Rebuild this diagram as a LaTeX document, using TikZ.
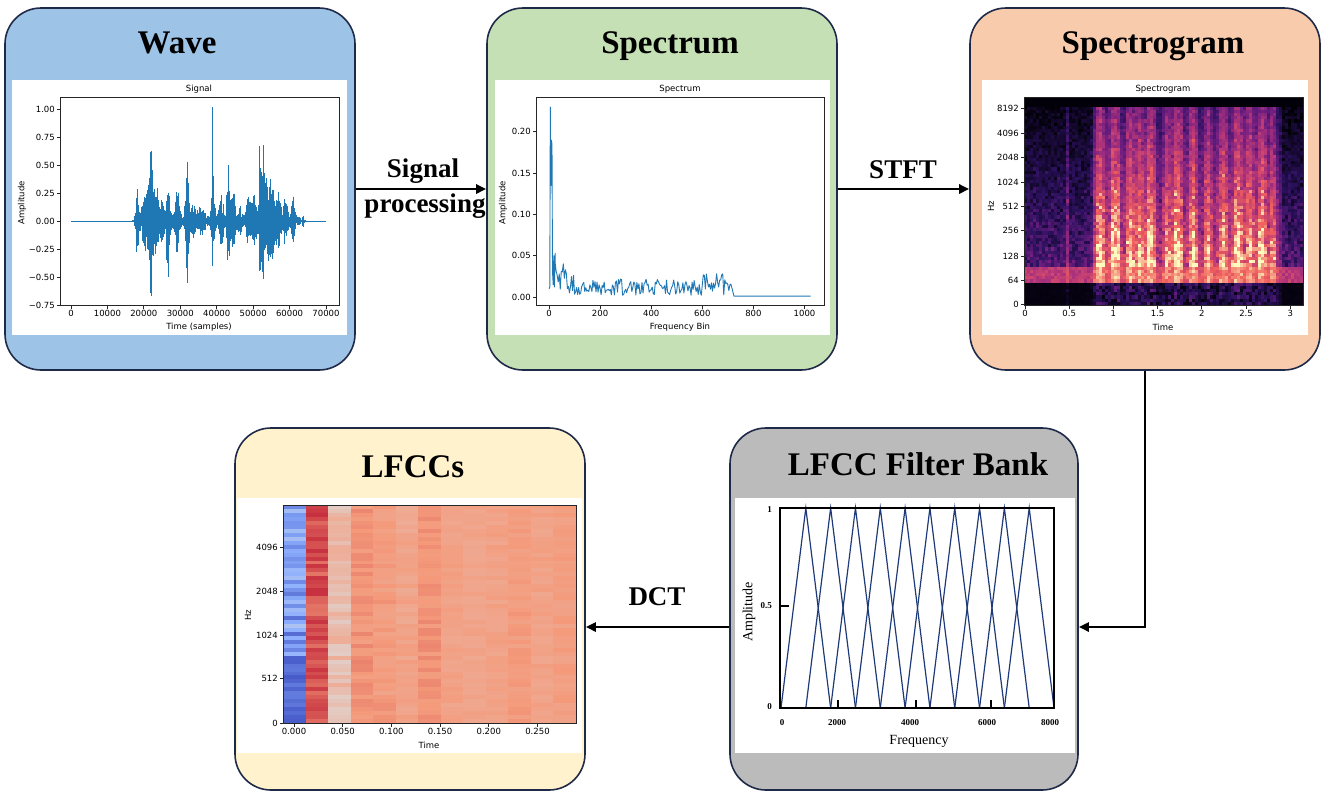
\documentclass[tikz,border=0pt]{standalone}
\usepackage{fontspec}
\setmainfont{Liberation Serif}
\newfontfamily\mplfont{DejaVu Sans}
\usetikzlibrary{arrows.meta}
\definecolor{navyb}{HTML}{1F2A48}
\definecolor{fwave}{HTML}{9DC3E6}
\definecolor{fspec}{HTML}{C5E0B4}
\definecolor{fsgram}{HTML}{F8CBAD}
\definecolor{flfcc}{HTML}{FFF2CC}
\definecolor{ffilt}{HTML}{BBBBBB}
\definecolor{mplblue}{HTML}{1F77B4}
\definecolor{fbline}{HTML}{1F3A78}
\definecolor{mag0}{HTML}{000004}
\definecolor{mag1}{HTML}{2C115F}
\definecolor{mag2}{HTML}{721F81}
\definecolor{mag3}{HTML}{B73779}
\definecolor{mag4}{HTML}{F1605D}
\definecolor{mag5}{HTML}{FCFDBF}
\definecolor{cw0}{HTML}{3B4CC0}
\definecolor{cw1}{HTML}{8DB0FE}
\definecolor{cw2}{HTML}{DDDCDC}
\definecolor{cw3}{HTML}{F49A7B}
\definecolor{cw4}{HTML}{B40426}
\tikzset{
 box/.style={draw=navyb, line width=1.6pt, rounded corners=36pt, minimum width=350pt, minimum height=362pt, inner sep=0pt},
 ttl/.style={font=\fontsize{33}{36}\selectfont\bfseries, anchor=base},
 lbl/.style={font=\fontsize{27}{30}\selectfont\bfseries, anchor=base},
 arr/.style={line width=2.6pt, -{Triangle[length=10pt,width=9pt]}},
 tk/.style={font=\mplfont\fontsize{8.5}{10}\selectfont, inner sep=1pt},
 axf/.style={draw=black!85, line width=0.8pt},
 wavel/.style={mplblue, line width=0.6pt},
 specl/.style={mplblue, line width=0.9pt, line join=round},
 fbl/.style={fbline, line width=1.2pt},
 fbt/.style={font=\fontsize{9}{10}\selectfont\bfseries, inner sep=1pt},
 fbx/.style={font=\fontsize{14}{16}\selectfont, inner sep=1pt},
}
\begin{document}
\begin{tikzpicture}[x=1pt,y=-1pt,
  declare function={g(\x,\m,\s)=exp(-1*pow(min(abs((\x-\m)/\s),4),2));
                    sb(\t)=(\t<100 ? 0.042 : (\t<600 ? 0.02 : (\t<690 ? 0.034 : 0.02)));}]
\useasboundingbox (0,0) rectangle (1325,796);
% ---------- boxes
\node[box, fill=fwave] (wave) at (180,189) {};
\node[box, fill=fspec] (spectrum) at (662,189) {};
\node[box, fill=fsgram] (sgram) at (1145,189) {};
\node[box, fill=flfcc] (lfcc) at (410,609) {};
\node[box, fill=ffilt, minimum width=348pt] (filt) at (904,609) {};
% ---------- white panels
\fill[white] (12,80) rectangle (347,335);
\fill[white] (495,80) rectangle (830,335);
\fill[white] (982,80) rectangle (1308,335);
\fill[white] (237,498) rectangle (582,753);
\fill[white] (735,498) rectangle (1075,753);
% ---------- titles
\node[ttl] (t1) at (177,53) {Wave};
\node[ttl] (t2) at (670,53) {Spectrum};
\node[ttl] (t3) at (1153,53) {Spectrogram};
\node[ttl] (t4) at (413,477) {LFCCs};
\node[ttl] (t5) at (918,475) {LFCC Filter Bank};

% ================= WAVE plot
\pgfmathsetseed{3}
\draw[mplblue, line width=0.8pt] (71,221) -- (326,221);
\foreach \i in {0,...,460}{
 \pgfmathsetmacro\xx{132+\i*0.38}
 \pgfmathsetmacro\up{0.006+0.035*(\xx>136)*(\xx<300)+0.25*g(\xx,137,1.8)+0.22*g(\xx,145,3.5)+0.5*g(\xx,151,3)+0.3*g(\xx,157,2.5)+0.18*g(\xx,162,2)+0.25*g(\xx,168,2.5)+0.27*g(\xx,177,2.5)+0.48*g(\xx,187,2)+0.12*g(\xx,193,3)+0.1*g(\xx,201,4)+0.4*g(\xx,213,1.8)+0.2*g(\xx,221,2.5)+0.45*g(\xx,228,1.5)+0.22*g(\xx,233,3)+0.1*g(\xx,240,2)+0.18*g(\xx,248,2.5)+0.2*g(\xx,254,3)+0.5*g(\xx,260,1.5)+0.5*g(\xx,263,1.5)+0.36*g(\xx,267,3.5)+0.3*g(\xx,272,2.5)+0.22*g(\xx,278,3)+0.2*g(\xx,285,2.5)+0.18*g(\xx,293,2)+0.05*g(\xx,303,1)}
 \pgfmathsetmacro\dn{\up+0.25*g(\xx,167,1.5)-0.2*g(\xx,213,1.5)-0.1*g(\xx,263,2)}
 \draw[wavel] (\xx,{221-112*\up*(0.3+0.7*rnd)}) -- (\xx,{221+112*\dn*(0.3+0.7*rnd)});
}
\draw[wavel, line width=0.9pt] (212,107) -- (212,266);
\draw[wavel, line width=0.9pt] (151,150.5) -- (151,296);
\draw[wavel, line width=0.9pt] (150,152) -- (150,293);
\draw[wavel, line width=0.9pt] (187,161.6) -- (187,282.6);
\draw[wavel, line width=0.9pt] (228,165) -- (228,251);
\draw[wavel, line width=0.9pt] (259,146) -- (259,271);
\draw[wavel, line width=0.9pt] (263,145) -- (263,279);
\draw[wavel, line width=0.9pt] (168,200) -- (168,277);
\draw[axf] (60,97) rectangle (339,305);
\foreach \t [count=\k from 0] in {1.00,0.75,0.50,0.25,0.00,−0.25,−0.50,−0.75}{
  \draw[axf] (60,{109+28*\k}) -- ++(-3.5,0);
  \node[tk, anchor=east] at (56,{109+28*\k}) {\t};
}
\foreach \t [count=\k from 0] in {0,10000,20000,30000,40000,50000,60000,70000}{
  \draw[axf] ({71+36.43*\k},305) -- ++(0,3.5);
  \node[tk, anchor=north] at ({71+36.43*\k},309) {\t};
}
\node[tk] (wtitle) at (199,89) {Signal};
\node[tk] (wx) at (199,327) {Time (samples)};
\node[tk, rotate=90] (wy) at (22,203) {Amplitude};

% ================= SPECTRUM plot
\pgfmathsetseed{11}
\draw[specl] (549,{297-826*0.01}) -- (549.8,{297-826*0.012}) -- (550.3,{297-826*0.23}) -- (550.8,{297-826*0.135}) -- (551.3,{297-826*0.19}) -- (552,{297-826*0.185}) -- (552.5,{297-826*0.03}) -- (553.2,{297-826*0.015}) -- (553.8,{297-826*0.05}) -- (554.4,{297-826*0.012}) -- (555.2,{297-826*0.053})
  \foreach \b in {24,28,...,712}{ -- ({549+0.2555*\b},{297-826*(0.002+sb(\b)*rnd)}) }
  -- ({549+0.2555*724},{297-826*0.001}) -- ({549+0.2555*1024},{297-826*0.001});
\draw[axf] (536,97) rectangle (824,305);
\foreach \t [count=\k from 0] in {0.00,0.05,0.10,0.15,0.20}{
  \draw[axf] (536,{297-41.3*\k}) -- ++(-3.5,0);
  \node[tk, anchor=east] at (532,{297-41.3*\k}) {\t};
}
\foreach \t [count=\k from 0] in {0,200,400,600,800,1000}{
  \draw[axf] ({549+51.1*\k},305) -- ++(0,3.5);
  \node[tk, anchor=north] at ({549+51.1*\k},309) {\t};
}
\node[tk] (stitle) at (680,89) {Spectrum};
\node[tk] (sx) at (680,327) {Frequency Bin};
\node[tk, rotate=90] (sy) at (503,203) {Amplitude};

% ================= SPECTROGRAM plot
\pgfmathsetseed{5}
\fill[mag0] (1024,97) rectangle (1303,305);
\foreach \c in {0,...,92}{
  \pgfmathsetmacro\cx{1024+\c*3+1.5}
  \pgfmathsetmacro\act{min(1,0.04+0.2*(\cx>1093)*(\cx<1283)+0.3*g(\cx,1067,1.5)+0.8*g(\cx,1100,6)+1.0*g(\cx,1115,5.5)+0.8*g(\cx,1130,5)+0.7*g(\cx,1140,4.5)+0.9*g(\cx,1151,5.5)+0.6*g(\cx,1167,5)+0.9*g(\cx,1178,5.5)+0.8*g(\cx,1193,5.5)+0.7*g(\cx,1208,5)+0.75*g(\cx,1223,6)+0.85*g(\cx,1238,6)+0.7*g(\cx,1250,5)+0.8*g(\cx,1262,5.5)+0.6*g(\cx,1273,4))}
  \foreach \r in {0,...,64}{
    \pgfmathsetmacro\yy{97+\r*3.2+1.6}
    \pgfmathsetmacro\vv{\yy<107 ? 0.01 : (\yy<267 ? 0.03+0.3*(\yy-107)/160*(0.4+0.8*rnd)+\act*(0.5+0.3*(\yy-107)/160)*(0.8+0.3*rnd)+(rnd-0.6)*0.12 : (\yy<281 ? 0.6+0.3*\act+(rnd-0.5)*0.15 : 0.02+0.35*\act*rnd))}
    \pgfmathsetmacro\vv{max(0,min(0.999,\vv))}
    \pgfmathtruncatemacro\ki{\vv*5}
    \pgfmathtruncatemacro\kj{\ki+1}
    \pgfmathsetmacro\pp{(\vv*5-\ki)*100}
    \fill[mag\kj!\pp!mag\ki] ({1024+\c*3},{97+\r*3.2}) rectangle ++(3.15,3.3);
  }
}
\fill[white] (1303.4,95) rectangle (1307,308);
\draw[axf] (1024,97) rectangle (1303,305);
\foreach \t/\yv in {8192/108,4096/133,2048/157,1024/182,512/206,256/230,128/256,64/280,0/304}{
  \draw[axf] (1024,\yv) -- ++(-3.5,0);
  \node[tk, anchor=east] at (1020,\yv) {\t};
}
\foreach \t [count=\k from 0] in {0,0.5,1,1.5,2,2.5,3}{
  \draw[axf] ({1025+44.2*\k},305) -- ++(0,3.5);
  \node[tk, anchor=north] at ({1025+44.2*\k},309) {\t};
}
\node[tk] (gtitle) at (1163,89) {Spectrogram};
\node[tk] (gx) at (1163,327) {Time};
\node[tk, rotate=90] (gy) at (991,206) {Hz};

% ================= LFCC plot
\pgfmathsetseed{9}
\foreach \b/\n [count=\ci from 0] in {0.3/0.0,0.87/0.06,0.62/0.06,0.76/0.03,0.74/0.03,0.71/0.03,0.76/0.025,0.72/0.02,0.71/0.02,0.72/0.02,0.74/0.02,0.72/0.02,0.73/0.02}{
  \foreach \r in {0,...,54}{
    \pgfmathsetmacro\yy{505+\r*3.964+2}
    \pgfmathsetmacro\vv{\ci==0 ? (\yy<655 ? 0.08+0.27*rnd : 0.03+0.09*rnd) : \b+(rnd-0.5)*2*\n}
    \pgfmathsetmacro\vv{max(0,min(0.999,\vv))}
    \pgfmathtruncatemacro\ki{\vv*4}
    \pgfmathtruncatemacro\kj{\ki+1}
    \pgfmathsetmacro\pp{(\vv*4-\ki)*100}
    \fill[cw\kj!\pp!cw\ki] ({283+\ci*22.54},{505+\r*3.964}) rectangle ++(22.8,4.1);
  }
}
\fill[white] (576.4,500) rectangle (580,726);
\fill[white] (280,723.4) rectangle (580,727);
\draw[axf] (283,505) rectangle (576,723);
\foreach \t/\yv in {4096/547,2048/591,1024/635,512/678,0/723}{
  \draw[axf] (283,\yv) -- ++(-3.5,0);
  \node[tk, anchor=east] at (279,\yv) {\t};
}
\foreach \t [count=\k from 0] in {0.000,0.050,0.100,0.150,0.200,0.250}{
  \draw[axf] ({294+48.7*\k},723) -- ++(0,3.5);
  \node[tk, anchor=north] at ({294+48.7*\k},727) {\t};
}
\node[tk] (lx) at (429,745) {Time};
\node[tk, rotate=90] (ly) at (248,615) {Hz};

% ================= FILTER BANK plot
\foreach \i in {1,...,10}{
  \draw[fbl] ({781+(\i-1)*24.82},708) -- ({781+\i*24.82},508) -- ({781+(\i+1)*24.82},708);
}
\draw[black, line width=1.2pt] (780,508) rectangle (1054,708);
\draw[black, line width=1.1pt] (780,606) -- (789,606);
\foreach \xv in {838,916,991}{ \draw[black, line width=1.1pt] (\xv,708) -- (\xv,700); }
\node[fbt, anchor=east] at (773,510) {1};
\node[fbt, anchor=east] at (773,606) {0.5};
\node[fbt, anchor=east] at (773,707) {0};
\foreach \t/\xv in {0/782,2000/837,4000/910,6000/987,8000/1050}{
  \node[fbt] at (\xv,723) {\t};
}
\node[fbx] (fx) at (919,741) {Frequency};
\node[fbx, rotate=90] (fy) at (749,612) {Amplitude};

% ================= arrows
\coordinate (lvl) at (1000,627);
\draw[arr] (wave) -- (spectrum);
\draw[arr] (spectrum) -- (sgram);
\draw[arr] (sgram.south) |- (filt.east |- lvl);
\draw[arr] (filt.west |- lvl) -- (lfcc.east |- lvl);
\node[lbl] (l1) at (423,177) {Signal};
\node[lbl] (l2) at (425,212) {processing};
\node[lbl] (l3) at (903,178) {STFT};
\node[lbl] (l4) at (657,605) {DCT};
\end{tikzpicture}
\end{document}
